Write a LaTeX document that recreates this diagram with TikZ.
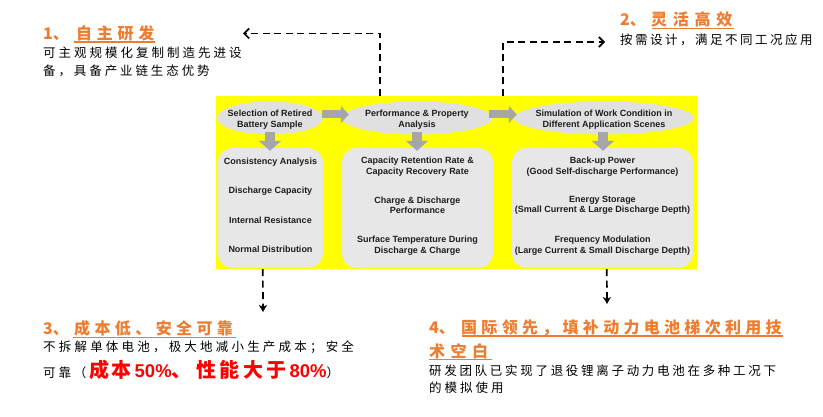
\documentclass[tikz,border=0pt]{standalone}
\usepackage{fontspec}
\setmainfont{Liberation Sans}
\newfontfamily\cjk{Noto Sans CJK SC}
\usetikzlibrary{arrows.meta,calc,shapes.geometric}
\definecolor{panelyellow}{RGB}{255,255,0}
\definecolor{ellgray}{RGB}{224,224,224}
\definecolor{boxgray}{RGB}{231,231,231}
\definecolor{arrgray}{RGB}{166,166,166}
\definecolor{txtdark}{RGB}{30,30,30}
\definecolor{hdorange}{RGB}{237,125,49}
\definecolor{hotred}{RGB}{255,0,0}
\newcommand\panelfont{\bfseries\fontsize{9}{10.5}\selectfont}
\newcommand\pitched[2]{\def\pitchw{#1}\pitchloop#2\relax}
\def\pitchloop#1{\ifx#1\relax\else\makebox[\pitchw][l]{#1}\expandafter\pitchloop\fi}
\begin{document}
\begin{tikzpicture}[x=1pt,y=-1pt,
  panelbox/.style={fill=panelyellow,inner sep=0,minimum width=481pt,minimum height=173pt},
  stageell/.style={ellipse,fill=ellgray,inner sep=0,minimum height=33pt},
  itembox/.style={fill=boxgray,rounded corners=15pt,inner sep=0,minimum height=120pt},
  itemtext/.style={align=center,inner sep=0,text=txtdark,font=\panelfont},
  flowarrow/.style={draw=arrgray,line width=8pt,-{Triangle[length=8pt,width=17pt]}},
  downarrow/.style={draw=arrgray,line width=10pt,-{Triangle[length=10pt,width=22pt]}},
  dashlink/.style={draw=black,line width=1.7pt,dash pattern=on 7pt off 4.5pt},
  headtext/.style={anchor=base west,inner sep=0,text=hdorange,font=\cjk\bfseries\fontsize{16}{18}\selectfont},
  bodytext/.style={anchor=base west,inner sep=0,text=black,font=\cjk\fontsize{12.5}{18}\selectfont},
  uline/.style={draw=hdorange,line width=1.1pt}
]
\useasboundingbox (0,0) rectangle (823,417);

% panel
\node[panelbox] (panel) at (456.5,182.5) {};

% stage ellipses
\node[stageell,minimum width=106pt] (e1) at (270,118) {};
\node[stageell,minimum width=150pt] (e2) at (417,118) {};
\node[stageell,minimum width=180pt] (e3) at (604,118) {};
\node[itemtext] (e1t) at (270,119.5) {Selection of Retired\\Battery Sample};
\node[itemtext] (e2t) at (417,119.5) {Performance \& Property\\Analysis};
\node[itemtext] (e3t) at (604,119.5) {Simulation of Work Condition in\\Different Application Scenes};

% item boxes
\node[itembox,minimum width=105pt] (b1) at (270.5,208) {};
\node[itembox,minimum width=151pt] (b2) at (417.5,208) {};
\node[itembox,minimum width=181pt] (b3) at (602.5,208) {};

% flow arrows
\draw[flowarrow] ($(e1.east)+(-1,-3.5)$) -- ($(e2.west)+(7,-3.5)$);
\draw[flowarrow] ($(e2.east)+(-3,-3.5)$) -- ($(e3.west)+(3,-3.5)$);
\draw[downarrow] ($(e1.south)+(0,-3)$) -- ($(e1.south |- b1.north)+(0,3)$);
\draw[downarrow] ($(e2.south)+(0,-3)$) -- ($(e2.south |- b2.north)+(0,3)$);
\draw[downarrow] ($(e3.south)+(-1,-3)$) -- ($(e3.south |- b3.north)+(-1,3)$);

% box 1 texts
\node[itemtext,anchor=base] (i11) at (270.5,164.2) {Consistency Analysis};
\node[itemtext,anchor=base] (i12) at (270.5,193.5) {Discharge Capacity};
\node[itemtext,anchor=base] (i13) at (270.5,223.5) {Internal Resistance};
\node[itemtext,anchor=base] (i14) at (270.5,252.5) {Normal Distribution};
% box 2 texts
\node[itemtext] (i21) at (417.5,166.5) {Capacity Retention Rate \&\\Capacity Recovery Rate};
\node[itemtext] (i22) at (417.5,205.5) {Charge \& Discharge\\Performance};
\node[itemtext] (i23) at (417.5,245.5) {Surface Temperature During\\Discharge \& Charge};
% box 3 texts
\node[itemtext] (i31) at (602.5,166.5) {Back-up Power\\(Good Self-discharge Performance)};
\node[itemtext] (i32) at (602.5,205.5) {Energy Storage\\(Small Current \& Large Discharge Depth)};
\node[itemtext] (i33) at (602.5,245.5) {Frequency Modulation\\(Large Current \& Small Discharge Depth)};

% block 1
\node[headtext] (h1) at (43,39.4) {\makebox[33pt][l]{1、}\pitched{20.7pt}{自主研发}};
\draw[uline] (74,42) -- (155,42);
\node[bodytext] (t1a) at (43,57.6) {\pitched{15.5pt}{可主观规模化复制制造先进设}};
\node[bodytext] (t1b) at (43,75.1) {\pitched{15.4pt}{备，具备产业链生态优势}};

% block 2
\node[headtext] (h2) at (620,25.9) {\makebox[31pt][l]{2、}\pitched{21.7pt}{灵活高效}};
\draw[uline] (652,28.5) -- (734,28.5);
\node[bodytext] (t2a) at (620,44.6) {\pitched{15pt}{按需设计，满足不同工况应用}};

% block 3
\node[headtext] (h3) at (43,334.9) {\makebox[31pt][l]{3、}\pitched{20.4pt}{成本低、安全可靠}};
\draw[uline] (73,337.5) -- (236,337.5);
\node[bodytext] (t3a) at (43,351.6) {\pitched{15.7pt}{不拆解单体电池，极大地减小生产成本；安全}};
\node[bodytext] (t3b) at (43,377.6) {\pitched{15.3pt}{可靠（}{\color{hotred}\bfseries\fontsize{20}{24}\selectfont\pitched{22.8pt}{成本}{\rmfamily\fontsize{18.5}{24}\selectfont 50\%}\makebox[25pt][l]{、}\pitched{23.2pt}{性能大于}{\rmfamily\fontsize{18.5}{24}\selectfont 80\%}}）};

% block 4
\node[headtext] (h4a) at (429,333.4) {\makebox[32pt][l]{4、}\pitched{20.3pt}{国际领先，填补动力电池梯次利用技}};
\node[headtext] (h4b) at (429,357) {\pitched{21.5pt}{术空白}};
\draw[uline] (462,336) -- (783,336);
\draw[uline] (429,359.5) -- (492,359.5);
\node[bodytext] (t4a) at (429,375) {\pitched{15.2pt}{研发团队已实现了退役锂离子动力电池在多种工况下}};
\node[bodytext] (t4b) at (429,392.6) {\pitched{15.5pt}{的模拟使用}};

% dashed links
\coordinate (d1e) at (243,33.5);
\coordinate (d2e) at (605,42);
\coordinate (d3e) at (263,312);
\coordinate (d4e) at (607,304);
\draw[dashlink,-{Straight Barb[length=5pt,width=10pt]}] ($(panel.north west)+(164,0)$) |- (d1e);
\draw[dashlink,-{Straight Barb[length=5pt,width=10pt]}] ($(panel.north west)+(287,0)$) |- (d2e);
\draw[dashlink,-{Stealth[length=7pt,width=8pt,inset=2pt]}] ($(panel.south west)+(47,0)$) -- (d3e);
\draw[dashlink,-{Stealth[length=7pt,width=8pt,inset=2pt]}] ($(panel.south west)+(391,0)$) -- (d4e);
\end{tikzpicture}
\end{document}
